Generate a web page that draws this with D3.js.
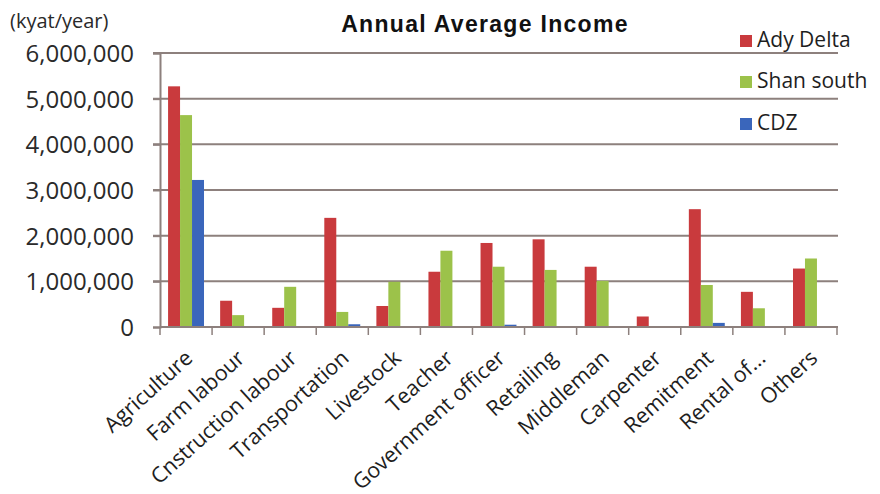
<!DOCTYPE html>
<html><head><meta charset="utf-8">
<script src="https://cdn.jsdelivr.net/npm/d3@7"></script>
<style>
body{margin:0;background:#fff;}
svg{display:block;}
</style></head>
<body><svg id="c" width="880" height="494"></svg>
<script>
const categories = ["Agriculture","Farm labour","Cnstruction labour","Transportation","Livestock","Teacher","Government officer","Retailing","Middleman","Carpenter","Remitment","Rental of...","Others"];
const seriesNames = ["Ady Delta","Shan south","CDZ"];
const adyDelta  = [5270000, 575000, 420000, 2390000, 460000, 1210000, 1840000, 1920000, 1320000, 230000, 2580000, 770000, 1280000];
const shanSouth = [4640000, 260000, 880000, 330000, 990000, 1670000, 1320000, 1250000, 1010000, 0, 920000, 410000, 1500000];
const cdz       = [3220000, 0, 0, 60000, 0, 0, 50000, 0, 0, 0, 90000, 0, 0];
const yTicks = [0,1000000,2000000,3000000,4000000,5000000,6000000];
const colors = ["#c93a3d","#9cc24a","#3a66bb"];

const seriesValues = [adyDelta, shanSouth, cdz];
const svg = d3.select("#c");
const L=160, R=837, T=53, B=327;

const x0 = d3.scaleBand().domain(categories).range([L,R]).paddingInner(0.31).paddingOuter(0.155);
const x1 = d3.scaleBand().domain(seriesNames).range([0,x0.bandwidth()]);
const y = d3.scaleLinear().domain([0,6000000]).range([B,T]);
const gridColor = "#8d807d";

// gridlines
svg.append("g").selectAll("line").data(yTicks.slice(1)).join("line")
  .attr("x1",L-7).attr("x2",R+1).attr("y1",d=>y(d)).attr("y2",d=>y(d))
  .attr("stroke",gridColor).attr("stroke-width",2);

// bars
const g = svg.append("g");
categories.forEach((c,i)=>{
  seriesNames.forEach((s,j)=>{
    const v = seriesValues[j][i];
    if(v<=0) return;
    g.append("rect").attr("x",x0(c)+x1(s)).attr("width",x1.bandwidth())
      .attr("y",y(v)).attr("height",B-y(v)).attr("fill",colors[j]);
  });
});

// y axis
const ya = svg.append("g").attr("transform",`translate(${L},0)`)
  .call(d3.axisLeft(y).tickValues(yTicks).tickSize(7).tickPadding(19).tickFormat(d3.format(",")));
ya.select(".domain").attr("stroke",gridColor).attr("stroke-width",2);
ya.selectAll(".tick line").attr("stroke",gridColor).attr("stroke-width",2);
ya.selectAll("text").attr("font-family","Open Sans").attr("font-size",24).attr("fill","#2a2a2a").attr("dy","0.36em");

// x axis
const xa = svg.append("g").attr("transform",`translate(0,${B})`)
  .call(d3.axisBottom(x0).tickSize(0).tickFormat(""));
xa.select(".domain").remove();
svg.append("line").attr("x1",L).attr("x2",R+1).attr("y1",B).attr("y2",B).attr("stroke",gridColor).attr("stroke-width",2);
const bounds = categories.map(c=>x0(c)-x0.step()*x0.paddingInner()/2).concat([R]);
svg.append("g").selectAll("line").data(bounds).join("line")
  .attr("x1",d=>d).attr("x2",d=>d).attr("y1",B).attr("y2",B+8)
  .attr("stroke",gridColor).attr("stroke-width",1.5);

svg.append("g").selectAll("text").data(categories).join("text")
  .attr("transform",d=>`translate(${x0(d)+x0.bandwidth()/2+8},${B+33}) rotate(-42)`)
  .attr("text-anchor","end")
  .attr("font-family","Open Sans").attr("font-size",21.5).attr("fill","#1e1e1e")
  .text(d=>d);

// title & unit
svg.append("text").attr("x",485).attr("y",32).attr("text-anchor","middle")
  .attr("font-family","Liberation Sans").attr("font-weight","bold").attr("font-size",23)
  .attr("letter-spacing",1.3).attr("fill","#111").text("Annual Average Income");
svg.append("text").attr("x",10).attr("y",28)
  .attr("font-family","Open Sans").attr("font-size",20).attr("fill","#2a2a2a").text("(kyat/year)");

// legend
const legY=[47,88,130];
seriesNames.forEach((s,j)=>{
  svg.append("rect").attr("x",740).attr("y",legY[j]-12).attr("width",12).attr("height",12).attr("fill",colors[j]);
  svg.append("text").attr("x",757).attr("y",legY[j]).attr("font-family","Open Sans").attr("font-size",21)
    .attr("fill","#1e1e1e").text(s);
});
</script></body></html>
